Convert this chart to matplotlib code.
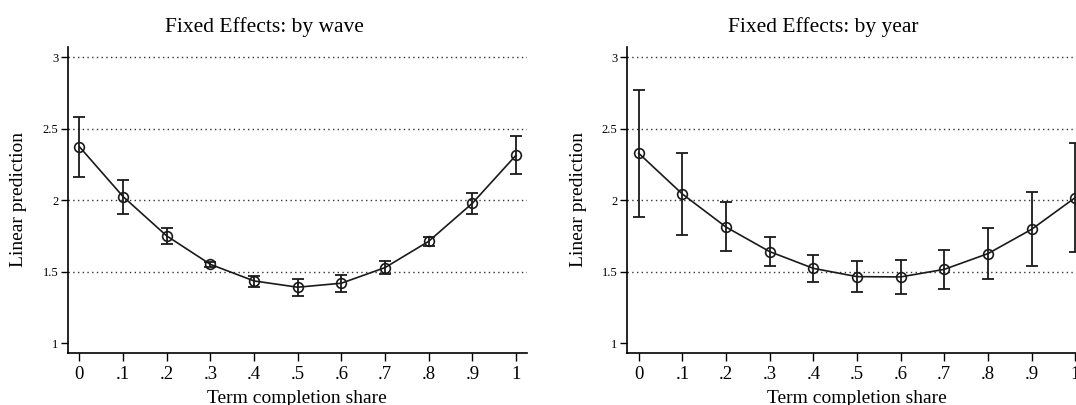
import numpy as np
import matplotlib
matplotlib.use("Agg")
import matplotlib.pyplot as plt

plt.rcParams['font.family'] = ['Liberation Serif', 'DejaVu Serif']

# Data
share = [0, 0.1, 0.2, 0.3, 0.4, 0.5, 0.6, 0.7, 0.8, 0.9, 1.0]
share_labels = ["0", ".1", ".2", ".3", ".4", ".5", ".6", ".7", ".8", ".9", "1"]

# by wave
wave_pred = [2.375, 2.026, 1.751, 1.552, 1.436, 1.392, 1.420, 1.529, 1.713, 1.979, 2.315]
wave_lo = [2.166, 1.904, 1.697, 1.534, 1.392, 1.331, 1.361, 1.483, 1.681, 1.907, 2.182]
wave_hi = [2.583, 2.145, 1.804, 1.569, 1.471, 1.448, 1.476, 1.578, 1.746, 2.049, 2.450]

# by year
year_pred = [2.329, 2.044, 1.813, 1.641, 1.524, 1.466, 1.464, 1.517, 1.627, 1.797, 2.019]
year_lo = [1.883, 1.755, 1.643, 1.541, 1.431, 1.359, 1.345, 1.382, 1.452, 1.541, 1.639]
year_hi = [2.772, 2.333, 1.991, 1.746, 1.620, 1.576, 1.585, 1.655, 1.804, 2.056, 2.399]

y_ticks = [1, 1.5, 2, 2.5, 3]
y_labels = ["1", "1.5", "2", "2.5", "3"]

fig = plt.figure(figsize=(10.76, 4.05), dpi=100)

panels = [
    ("Fixed Effects: by wave", wave_pred, wave_lo, wave_hi, 68 / 1076),
    ("Fixed Effects: by year", year_pred, year_lo, year_hi, 627.3 / 1076),
]

for title, pred, lo, hi, left in panels:
    ax = fig.add_axes([left, 0.1277, 458.7 / 1076, 0.757])
    pred = np.array(pred)
    err = [pred - np.array(lo), np.array(hi) - pred]

    # dotted gridlines (none at the bottom tick)
    for g in y_ticks[1:]:
        ax.axhline(g, color='#333333', lw=1.0, ls=(0, (1, 2.4)), zorder=1)

    ax.errorbar(share, pred, yerr=err, fmt='none', ecolor='#1a1a1a',
                elinewidth=1.3, capsize=4, capthick=1.3, zorder=2)
    ax.plot(share, pred, color='#1a1a1a', lw=1.2, marker='o', ms=7,
            mfc='none', mec='#1a1a1a', mew=1.2, zorder=3)

    ax.set_xlim(-0.026, 1.0245)
    ax.set_ylim(0.93, 3.074)
    ax.set_xticks(share)
    ax.set_xticklabels(share_labels, fontsize=13.5)
    ax.set_yticks(y_ticks)
    ax.set_yticklabels(y_labels, fontsize=9)
    ax.tick_params(axis='x', length=6, width=1, pad=3)
    ax.tick_params(axis='y', length=5, width=1, pad=2)

    for s in ['top', 'right']:
        ax.spines[s].set_visible(False)
    for s in ['left', 'bottom']:
        ax.spines[s].set_linewidth(1.2)

    ax.set_xlabel("Term completion share", fontsize=14, va='center')
    ax.xaxis.set_label_coords(0.5, -0.146)
    ax.set_ylabel("Linear prediction", fontsize=14, va='center')
    ax.yaxis.set_label_coords(-0.107, 0.5)
    ax.text(0.428, 1.064, title, transform=ax.transAxes, ha='center',
            va='center', fontsize=15.5)

fig.savefig("out.png", dpi=100)
